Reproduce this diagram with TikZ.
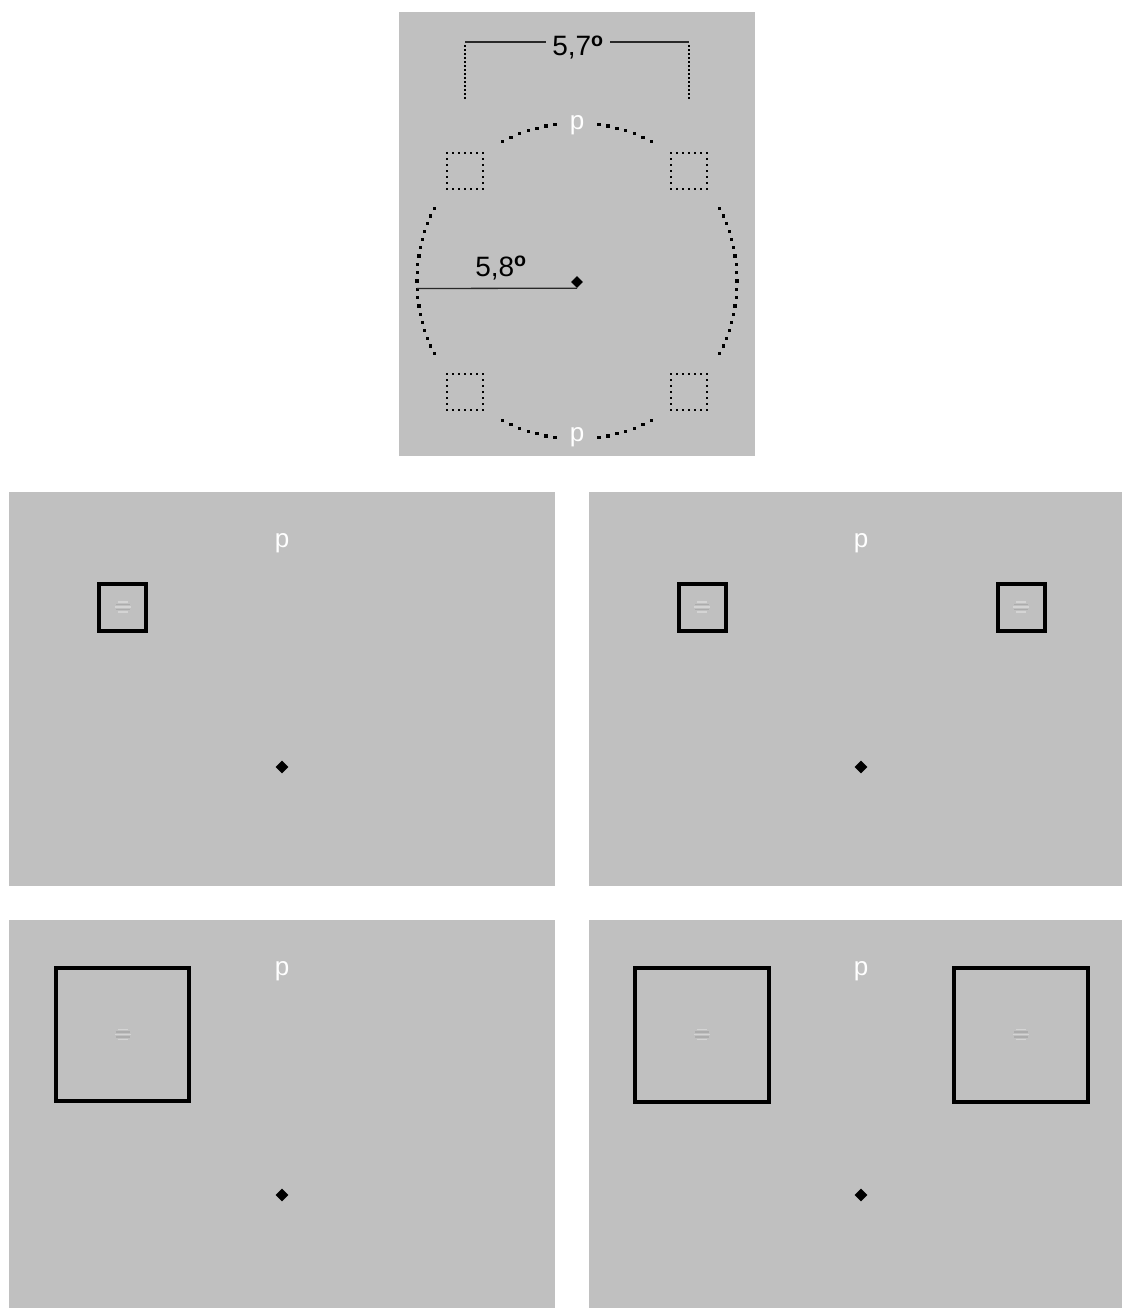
\documentclass[tikz,border=0pt]{standalone}
\usepackage{fontspec}
\setmainfont{Liberation Sans}
\usetikzlibrary{shapes.geometric}
\definecolor{bg}{RGB}{192,192,192}
\definecolor{gl}{RGB}{212,212,212}
\definecolor{gd}{RGB}{172,172,172}
\definecolor{ln}{RGB}{40,40,40}
\tikzset{
  panel/.style={fill=bg, draw=none},
  fix/.style={diamond, fill=black, inner sep=0pt, minimum size=13pt},
  cue/.style={draw=black, line width=4pt, inner sep=0pt},
  lbl/.style={font=\fontsize{28}{30}\selectfont, text=black, inner sep=0pt, anchor=base},
  ptxt/.style={font=\fontsize{26}{28}\selectfont, text=white, inner sep=0pt, anchor=base},
  grating/.pic={
    \draw[line width=1.1pt, gl] (-5,-5) -- (5,-5);
    \draw[line width=1.1pt, gd] (-7,-2.5) -- (7,-2.5);
    \draw[line width=1.1pt, gl] (-8,0) -- (8,0);
    \draw[line width=1.1pt, gd] (-7,2.5) -- (7,2.5);
    \draw[line width=1.1pt, gl] (-5,5) -- (5,5);
  }
}
\begin{document}
\begin{tikzpicture}[x=1pt,y=-1pt]
\useasboundingbox (0,0) rectangle (1122,1308);
% panels
\fill[panel] (399,12) rectangle (755,456);
\fill[panel] (9,492) rectangle (555,886);
\fill[panel] (589,492) rectangle (1122,886);
\fill[panel] (9,920) rectangle (555,1308);
\fill[panel] (589,920) rectangle (1122,1308);

% ---------- top panel ----------
\coordinate (ctr) at (577,281);
% bracket
\coordinate (bl) at (465,42);
\coordinate (br) at (689,42);
\draw[ln, line width=1.3pt] (bl) -- (br);
\node[lbl, fill=bg, inner xsep=6pt] (w57) at (578,56) {5,7\textsuperscript{\textbf{o}}};
\foreach \yy in {46,50,...,98}{
  \fill (465,\yy) ++(-1.1,-1.1) rectangle ++(2.2,2.2);
  \fill (689,\yy) ++(-1.1,-1.1) rectangle ++(2.2,2.2);
}
% dotted arcs
\foreach \a in {153,156,...,207}{
  \fill[shift={(ctr)}] (\a:160) ++(-1.6,-1.6) rectangle ++(3.2,3.2);
}
\foreach \a in {-27,-24,...,27}{
  \fill[shift={(ctr)}] (\a:160) ++(-1.6,-1.6) rectangle ++(3.2,3.2);
}
\foreach \s in {62,98,242,278}{
  \foreach \i in {0,...,6}{
    \fill[shift={(ctr)}] ({\s+\i*10/3}:158) ++(-1.6,-1.6) rectangle ++(3.2,3.2);
  }
}
% dotted squares
\foreach \cx/\cy in {465/171, 689/171, 465/392, 689/392}{
  \foreach \k in {-18,-12,...,18}{
    \fill (\cx+\k,\cy-18) ++(-1.3,-1.3) rectangle ++(2.6,2.6);
    \fill (\cx+\k,\cy+18) ++(-1.3,-1.3) rectangle ++(2.6,2.6);
    \fill (\cx-18,\cy+\k) ++(-1.3,-1.3) rectangle ++(2.6,2.6);
    \fill (\cx+18,\cy+\k) ++(-1.3,-1.3) rectangle ++(2.6,2.6);
  }
}
\node[ptxt] (pt1) at (577,130) {p};
\node[ptxt] (pt2) at (577,441) {p};
\node[fix, minimum size=12pt] (f0) at (577,282) {};
\coordinate (rl) at (417,288.5);
\draw[ln, line width=1.3pt] (rl) -- (f0.south);
\node[lbl] (w58) at (501,276) {5,8\textsuperscript{\textbf{o}}};

% ---------- panel A ----------
\node[ptxt] (pA) at (282,547) {p};
\node[fix] (fA) at (282,767) {};
\node[cue, minimum size=47pt] (sA) at (122.5,607) {};
\pic at (sA.center) {grating};

% ---------- panel B ----------
\node[ptxt] (pB) at (861,547) {p};
\node[fix] (fB) at (861,767) {};
\node[cue, minimum size=47pt] (sB1) at (702,607) {};
\node[cue, minimum size=47pt] (sB2) at (1021,607) {};
\pic at (sB1.center) {grating};
\pic at (sB2.center) {grating};

% ---------- panel C ----------
\node[ptxt] (pC) at (282,975) {p};
\node[fix] (fC) at (282,1195) {};
\node[cue, minimum size=133pt] (sC) at (122.5,1034.5) {};
\pic at (sC.center) {grating};

% ---------- panel D ----------
\node[ptxt] (pD) at (861,975) {p};
\node[fix] (fD) at (861,1195) {};
\node[cue, minimum size=134pt] (sD1) at (702,1034.5) {};
\node[cue, minimum size=134pt] (sD2) at (1021,1034.5) {};
\pic at (sD1.center) {grating};
\pic at (sD2.center) {grating};
\end{tikzpicture}
\end{document}
